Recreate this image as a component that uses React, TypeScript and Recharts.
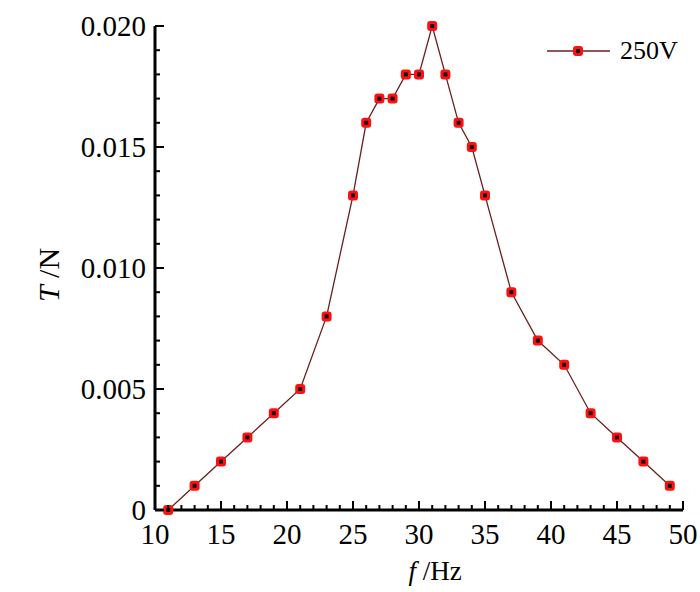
import { Label, Line, LineChart, XAxis, YAxis } from "recharts";

// frequency (Hz) and thrust (N) at 250V
const freq = [11, 13, 15, 17, 19, 21, 23, 25, 26, 27, 28, 29, 30, 31, 32, 33, 34, 35, 37, 39, 41, 43, 45, 47, 49];
const thrust250 = [
  0, 0.001, 0.002, 0.003, 0.004, 0.005, 0.008, 0.013, 0.016, 0.017, 0.017, 0.018, 0.018, 0.02, 0.018,
  0.016, 0.015, 0.013, 0.009, 0.007, 0.006, 0.004, 0.003, 0.002, 0.001,
];

const xTicks = [
  10, 11, 12, 13, 14, 15, 16, 17, 18, 19, 20, 21, 22, 23, 24, 25, 26, 27, 28, 29, 30, 31, 32, 33, 34, 35,
  36, 37, 38, 39, 40, 41, 42, 43, 44, 45, 46, 47, 48, 49, 50,
];
const yTicks = [
  0, 0.001, 0.002, 0.003, 0.004, 0.005, 0.006, 0.007, 0.008, 0.009, 0.01, 0.011, 0.012, 0.013, 0.014,
  0.015, 0.016, 0.017, 0.018, 0.019, 0.02,
];

const seriesName = "250V";

const data = freq.map((f, i) => ({ f, t: thrust250[i] }));

const FONT = '"Liberation Serif", "Times New Roman", serif';

function XTick({ x, y, payload }: any) {
  const v = payload.value as number;
  const major = v % 5 === 0;
  return (
    <g>
      <line x1={x} x2={x} y1={y} y2={y - (major ? 9 : 5)} stroke="#000" strokeWidth={2} />
      {major && (
        <text x={x} y={y + 34} textAnchor="middle" fontSize={29} fontFamily={FONT} fill="#000">
          {v}
        </text>
      )}
    </g>
  );
}

function YTick({ x, y, payload }: any) {
  const v = payload.value as number;
  const major = Math.round(v * 1000) % 5 === 0;
  return (
    <g>
      <line x1={x} x2={x + (major ? 9 : 5)} y1={y} y2={y} stroke="#000" strokeWidth={2} />
      {major && (
        <text x={x - 9} y={y + 10} textAnchor="end" fontSize={29} fontFamily={FONT} fill="#000">
          {v === 0 ? "0" : v.toFixed(3)}
        </text>
      )}
    </g>
  );
}

function Marker({ cx, cy }: any) {
  if (cx == null || cy == null) return null;
  return (
    <g>
      <rect x={cx - 5} y={cy - 5} width={10} height={10} rx={3} fill="#ff1010" />
      <rect x={cx - 2} y={cy - 2} width={4} height={4} fill="#111" />
    </g>
  );
}

export default function App() {
  return (
    <div style={{ position: "absolute", left: 0, top: 0, width: 700, height: 592, background: "#fff" }}>
      <LineChart width={700} height={592} data={data} margin={{ top: 26, right: 17, left: 0, bottom: 0 }}>
        <XAxis
          dataKey="f"
          type="number"
          domain={[10, 50]}
          ticks={xTicks}
          interval={0}
          tickSize={0}
          tickMargin={0}
          tickLine={false}
          tick={<XTick />}
          axisLine={{ stroke: "#000", strokeWidth: 3 }}
          height={82}
        >
          <Label
            content={({ viewBox }: any) => (
              <text
                x={viewBox.x + viewBox.width / 2 + 16}
                y={viewBox.y + 70}
                textAnchor="middle"
                fontSize={27}
                fontFamily={FONT}
                fill="#000"
              >
                <tspan fontStyle="italic">f</tspan>
                <tspan> /Hz</tspan>
              </text>
            )}
          />
        </XAxis>
        <YAxis
          type="number"
          domain={[0, 0.02]}
          ticks={yTicks}
          interval={0}
          tickSize={0}
          tickMargin={0}
          tickLine={false}
          tick={<YTick />}
          axisLine={{ stroke: "#000", strokeWidth: 3 }}
          width={155}
        >
          <Label
            content={({ viewBox }: any) => {
              const cx = viewBox.x + 48;
              const cy = viewBox.y + viewBox.height / 2 + 7;
              return (
                <text
                  x={cx}
                  y={cy}
                  transform={`rotate(-90 ${cx} ${cy})`}
                  textAnchor="middle"
                  dominantBaseline="central"
                  fontSize={30}
                  fontFamily={FONT}
                  fill="#000"
                >
                  <tspan fontStyle="italic">T</tspan>
                  <tspan> /N</tspan>
                </text>
              );
            }}
          />
        </YAxis>
        <Line
          dataKey="t"
          name={seriesName}
          stroke="#6a1f1f"
          strokeWidth={1.3}
          dot={<Marker />}
          activeDot={false}
          isAnimationActive={false}
        />
      </LineChart>
      <svg
        width={150}
        height={30}
        style={{ position: "absolute", left: 540, top: 36 }}
      >
        <line x1={7} x2={70} y1={15} y2={15} stroke="#6a1f1f" strokeWidth={1.5} />
        <Marker cx={38} cy={15} />
        <text x={80} y={23} fontSize={26} fontFamily={FONT} fill="#000">
          {seriesName}
        </text>
      </svg>
    </div>
  );
}
